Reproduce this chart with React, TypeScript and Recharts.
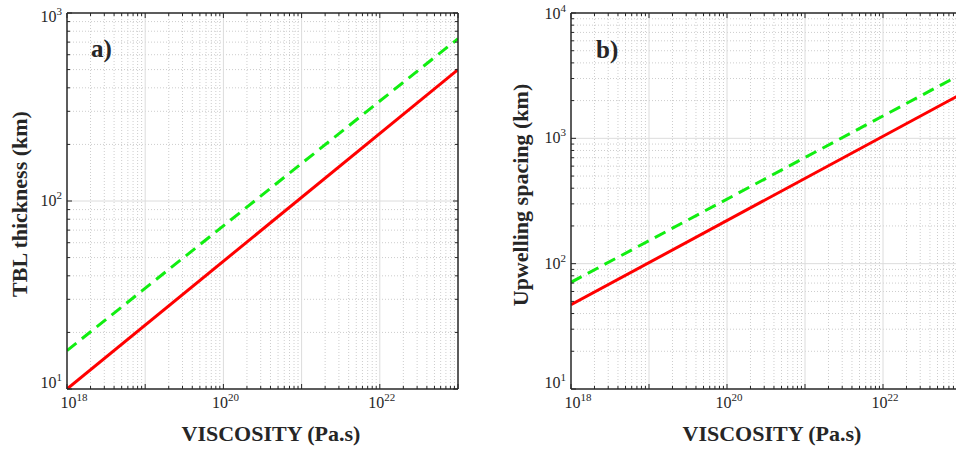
import React from 'react';
import { LineChart, Line, XAxis, YAxis, ReferenceLine } from 'recharts';

// ---- data ----
const viscosity = [1e18, 1e23];
const tblRed = [10, 500];
const tblGreen = [16, 730];
const spacingRed = [47, 2250];
const spacingGreen = [71, 3240];

// ---- tick decades / labels ----
const xDecades = [18, 19, 20, 21, 22, 23];
const xLabelled = [18, 20, 22];
const yDecadesA = [1, 2, 3];
const yDecadesB = [1, 2, 3, 4];

const FRAME = '#262626';
const FONT = '"Liberation Serif", "Times New Roman", serif';
const RED = '#ff0000';
const GREEN = '#11ee11';
const MAJOR_GRID = '#dcdcdc';
const MINOR_GRID = '#cdcdcd';

const majorValues = (decs: number[]) => decs.map((d) => Math.pow(10, d));
const minorValues = (decs: number[]) => {
  const out: number[] = [];
  for (let i = 0; i < decs.length - 1; i++) {
    for (let m = 2; m <= 9; m++) out.push(m * Math.pow(10, decs[i]));
  }
  return out;
};
const isMajor = (v: number) => Math.abs(Math.log10(v) - Math.round(Math.log10(v))) < 1e-6;
const expOf = (v: number) => Math.round(Math.log10(v));

const makeTick = (orient: string, labelled: number[], yDyFor?: (e: number) => number) => (props: any) => {
  const { x, y, payload } = props;
  const v = payload.value;
  const major = isMajor(v);
  const len = major ? 5 : 3;
  const e = expOf(v);
  const show = major && labelled.includes(e);
  let line = null;
  let label = null;
  if (orient === 'bottom') {
    line = <line x1={x} x2={x} y1={y} y2={y - len} stroke={FRAME} strokeWidth={1} />;
    if (show) {
      const dx = e === labelled[0] ? 7 : 2;
      label = (
        <text x={x + dx} y={y + 19} textAnchor="middle" fill={FRAME} fontFamily={FONT} fontSize={16}>
          10<tspan dy={-7} fontSize={11}>{e}</tspan>
        </text>
      );
    }
  } else if (orient === 'top') {
    line = <line x1={x} x2={x} y1={y} y2={y + len} stroke={FRAME} strokeWidth={1} />;
  } else if (orient === 'left') {
    line = <line x1={x} x2={x + len} y1={y} y2={y} stroke={FRAME} strokeWidth={1} />;
    if (show) {
      const dy = yDyFor ? yDyFor(e) : 5;
      label = (
        <text x={x - 5} y={y + dy} textAnchor="end" fill={FRAME} fontFamily={FONT} fontSize={16}>
          10<tspan dy={-7} fontSize={11}>{e}</tspan>
        </text>
      );
    }
  } else {
    line = <line x1={x} x2={x - len} y1={y} y2={y} stroke={FRAME} strokeWidth={1} />;
  }
  return (
    <g>
      {line}
      {label}
    </g>
  );
};

type PanelProps = {
  left: number;
  width: number;
  margin: { top: number; left: number; right: number; bottom: number };
  yDecades: number[];
  red: number[];
  green: number[];
  topDy: number;
};

function Panel({ left, width, margin, yDecades, red, green, topDy }: PanelProps) {
  const data = viscosity.map((x, i) => ({ x, red: red[i], green: green[i] }));
  const xDomain = [Math.pow(10, xDecades[0]), Math.pow(10, xDecades[xDecades.length - 1])];
  const yDomain = [Math.pow(10, yDecades[0]), Math.pow(10, yDecades[yDecades.length - 1])];
  const xTicks = [...majorValues(xDecades), ...minorValues(xDecades)];
  const yTicks = [...majorValues(yDecades), ...minorValues(yDecades)];
  const xMajorInner = majorValues(xDecades).slice(1, -1);
  const yMajorInner = majorValues(yDecades).slice(1, -1);
  const yDyFor = (e: number) => (e === yDecades[0] ? -1 : e === yDecades[yDecades.length - 1] ? topDy : 5);
  const axisLine = { stroke: FRAME, strokeWidth: 1.5 };

  return (
    <div style={{ position: 'absolute', left, top: 0 }}>
      <LineChart width={width} height={449} data={data} margin={margin}>
        {minorValues(xDecades).map((v) => (
          <ReferenceLine key={'xm' + v} x={v} stroke={MINOR_GRID} strokeWidth={1} strokeDasharray="1 2" />
        ))}
        {minorValues(yDecades).map((v) => (
          <ReferenceLine key={'ym' + v} y={v} stroke={MINOR_GRID} strokeWidth={1} strokeDasharray="1 2" />
        ))}
        {xMajorInner.map((v) => (
          <ReferenceLine key={'xM' + v} x={v} stroke={MAJOR_GRID} strokeWidth={1} />
        ))}
        {yMajorInner.map((v) => (
          <ReferenceLine key={'yM' + v} y={v} stroke={MAJOR_GRID} strokeWidth={1} />
        ))}
        <XAxis
          dataKey="x"
          type="number"
          scale="log"
          domain={xDomain}
          allowDataOverflow
          ticks={xTicks}
          interval={0}
          height={1}
          tickSize={0}
          tickMargin={0}
          tickLine={false}
          axisLine={axisLine}
          tick={makeTick('bottom', xLabelled)}
        />
        <XAxis
          xAxisId="top"
          orientation="top"
          dataKey="x"
          type="number"
          scale="log"
          domain={xDomain}
          allowDataOverflow
          ticks={xTicks}
          interval={0}
          height={1}
          tickSize={0}
          tickMargin={0}
          tickLine={false}
          axisLine={axisLine}
          tick={makeTick('top', [])}
        />
        <YAxis
          type="number"
          scale="log"
          domain={yDomain}
          allowDataOverflow
          ticks={yTicks}
          interval={0}
          width={1}
          tickSize={0}
          tickMargin={0}
          tickLine={false}
          axisLine={axisLine}
          tick={makeTick('left', yDecades, yDyFor)}
        />
        <YAxis
          yAxisId="right"
          orientation="right"
          type="number"
          scale="log"
          domain={yDomain}
          allowDataOverflow
          ticks={yTicks}
          interval={0}
          width={1}
          tickSize={0}
          tickMargin={0}
          tickLine={false}
          axisLine={axisLine}
          tick={makeTick('right', [])}
        />
        <Line dataKey="green" type="linear" stroke={GREEN} strokeWidth={3} strokeDasharray="12 7" dot={false} isAnimationActive={false} />
        <Line dataKey="red" type="linear" stroke={RED} strokeWidth={3} dot={false} isAnimationActive={false} />
      </LineChart>
    </div>
  );
}

export default function App() {
  return (
    <div
      style={{
        position: 'fixed',
        left: 0,
        top: 0,
        width: 956,
        height: 449,
        overflow: 'hidden',
        background: '#fff',
      }}
    >
      <Panel
        left={0}
        width={470}
        margin={{ top: 12, left: 66, right: 11, bottom: 59 }}
        yDecades={yDecadesA}
        red={tblRed}
        green={tblGreen}
        topDy={9}
      />
      <Panel
        left={480}
        width={494}
        margin={{ top: 12, left: 90, right: 12, bottom: 59 }}
        yDecades={yDecadesB}
        red={spacingRed}
        green={spacingGreen}
        topDy={6}
      />
      <svg
        width={956}
        height={449}
        style={{ position: 'absolute', left: 0, top: 0, pointerEvents: 'none' }}
      >
        <g fontFamily={FONT} fontWeight="bold" fill={FRAME}>
          <text x={271} y={441} fontSize={22} textAnchor="middle">VISCOSITY (Pa.s)</text>
          <text x={772} y={441} fontSize={22} textAnchor="middle">VISCOSITY (Pa.s)</text>
          <text x={27} y={204} fontSize={22} textAnchor="middle" transform="rotate(-90 27 204)">
            TBL thickness (km)
          </text>
          <text x={528} y={195} fontSize={22} textAnchor="middle" transform="rotate(-90 528 195)">
            Upwelling spacing (km)
          </text>
          <text x={91} y={57} fontSize={25}>a)</text>
          <text x={596} y={58} fontSize={25}>b)</text>
        </g>
      </svg>
    </div>
  );
}
